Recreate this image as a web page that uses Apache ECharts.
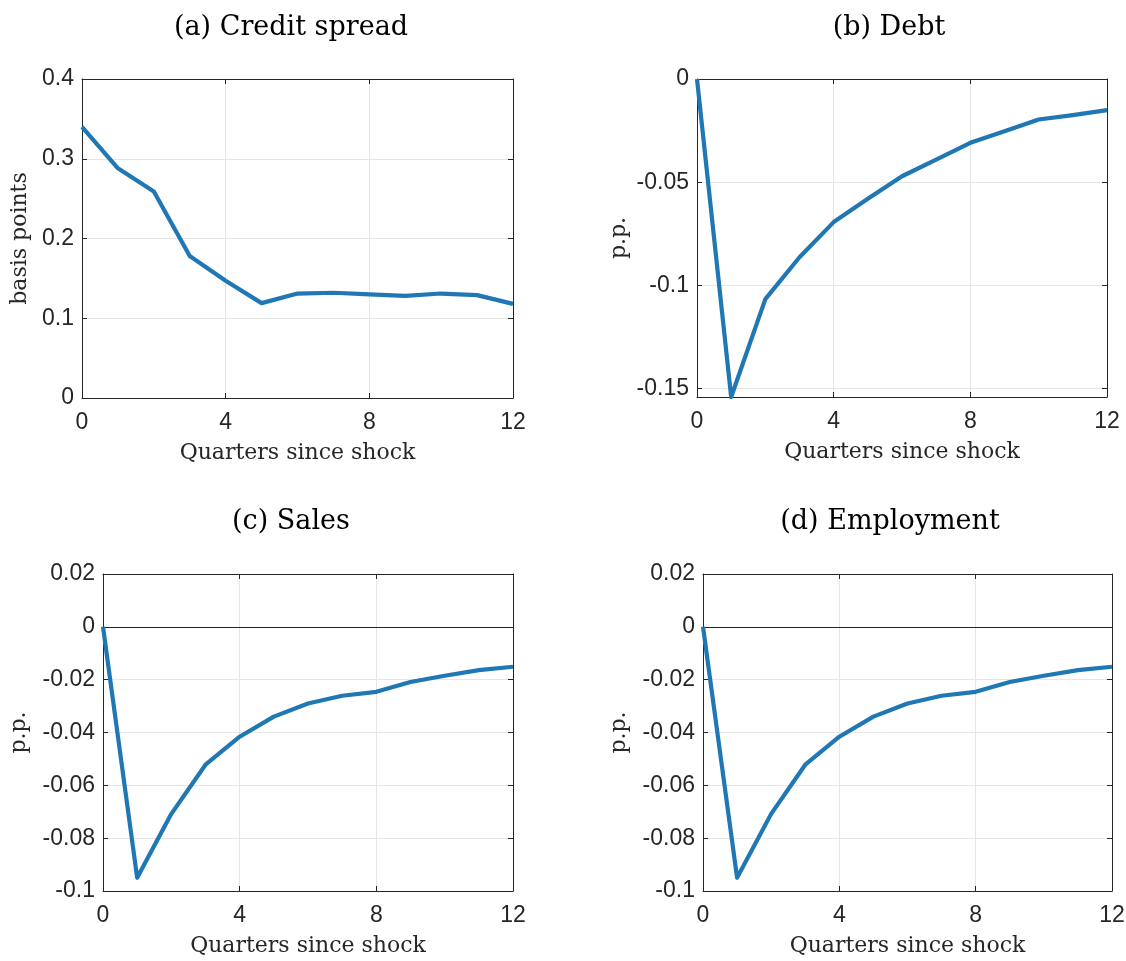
<!DOCTYPE html>
<html>
<head>
<meta charset="utf-8">
<script src="https://cdn.jsdelivr.net/npm/echarts@6/dist/echarts.min.js"></script>
<style>
html,body{margin:0;padding:0;background:#fff;}
#chart{width:1126px;height:961px;}
</style>
</head>
<body>
<div id="chart"></div>
<script>
const quarters = [0,1,2,3,4,5,6,7,8,9,10,11,12];
const creditSpread = [0.340,0.288,0.259,0.178,0.147,0.119,0.131,0.132,0.130,0.128,0.131,0.129,0.118];
const debt = [0,-0.154,-0.1066,-0.0863,-0.0693,-0.058,-0.0471,-0.039,-0.0309,-0.0253,-0.0196,-0.0175,-0.0151];
const sales = [0,-0.095,-0.0708,-0.0522,-0.0416,-0.034,-0.029,-0.0261,-0.0246,-0.0209,-0.0185,-0.0164,-0.0151];
const employment = [0,-0.095,-0.0708,-0.0522,-0.0416,-0.034,-0.029,-0.0261,-0.0246,-0.0209,-0.0185,-0.0164,-0.0151];
const xTicks = [0,4,8,12];
const debtTicks = [-0.15,-0.1,-0.05,0];
const titles = ['(a) Credit spread','(b) Debt','(c) Sales','(d) Employment'];
const yNames = ['basis points','p.p.','p.p.','p.p.'];
const xName = 'Quarters since shock';

const grids = [
  {left:82, top:79, width:431, height:319},
  {left:697, top:79, width:410, height:318},
  {left:103, top:574, width:410, height:317},
  {left:703, top:574, width:409, height:317}
];
const titleCenters = [286, 884, 286, 885];
const yCfg = [
  {min:0, max:0.4, interval:0.1},
  {min:-0.154, max:0, custom:debtTicks},
  {min:-0.1, max:0.02, interval:0.02},
  {min:-0.1, max:0.02, interval:0.02}
];
const seriesData = [creditSpread, debt, sales, employment];

const AX = '#262626';
const GRID = '#e6e6e6';
const SANS = 'Liberation Sans';
const SERIF = 'DejaVu Serif';

const option = {
  backgroundColor:'#fff',
  animation:false,
  title: [],
  grid: [],
  xAxis: [],
  yAxis: [],
  series: []
};

grids.forEach((g,i)=>{
  option.grid.push(Object.assign({outerBoundsMode:'none', containLabel:false}, g));
  option.title.push({
    text: titles[i],
    left: titleCenters[i],
    top: i<2 ? 9 : 503,
    textAlign:'center',
    textStyle:{fontFamily:SERIF, fontSize:27, fontWeight:'normal', color:'#000'}
  });
  const xBase = {
    type:'value', gridIndex:i, min:0, max:12, interval:4,
    axisLine:{show:true, onZero:false, lineStyle:{color:AX, width:1}},
    axisTick:{show:true, inside:true, length:5, lineStyle:{color:AX}},
  };
  option.xAxis.push(Object.assign({}, xBase, {
    position:'bottom',
    name:xName, nameLocation:'middle', nameGap:44,
    nameTextStyle:{fontFamily:SERIF, fontSize:22, color:'#262626'},
    axisLabel:{fontFamily:SANS, fontSize:23, color:AX, margin:13},
    splitLine:{show:true, lineStyle:{color:GRID, width:1}}
  }));
  option.xAxis.push(Object.assign({}, xBase, {
    position:'top', axisLabel:{show:false}, splitLine:{show:false}
  }));
  const yc = yCfg[i];
  const yBase = {
    type:'value', gridIndex:i, min:yc.min, max:yc.max,
    axisLine:{show:true, onZero:false, lineStyle:{color:AX, width:1}},
    axisTick:{show:true, inside:true, length:5, lineStyle:{color:AX}}
  };
  if (yc.interval) yBase.interval = yc.interval;
  if (yc.custom) yBase.axisTick.customValues = yc.custom;
  const yLeft = Object.assign({}, yBase, {
    position:'left',
    name:yNames[i], nameLocation:'middle', nameGap: i===0 ? 51 : (i===1 ? 67 : 73),
    nameRotate:90,
    nameTextStyle:{fontFamily:SERIF, fontSize:22, color:'#262626'},
    axisLabel:{fontFamily:SANS, fontSize:23, color:AX, margin:8},
    splitLine:{show:true, lineStyle:{color:GRID, width:1}}
  });
  if (yc.custom) yLeft.axisLabel.customValues = yc.custom;
  option.yAxis.push(yLeft);
  option.yAxis.push(Object.assign({}, yBase, {
    position:'right', axisLabel:{show:false}, splitLine:{show:false}
  }));
  const s = {
    type:'line', xAxisIndex:2*i, yAxisIndex:2*i,
    data: quarters.map((q,k)=>[q, seriesData[i][k]]),
    showSymbol:false, symbol:'none',
    lineStyle:{color:'#1f77b4', width:4.2, join:'round'},
    clip:true, z:5
  };
  if (i>=2) {
    s.markLine = {
      silent:true, symbol:['none','none'], label:{show:false},
      lineStyle:{color:AX, width:1, type:'solid'},
      data:[{yAxis:0}], z:3
    };
  }
  option.series.push(s);
});

const chart = echarts.init(document.getElementById('chart'), null, {renderer:'canvas'});
chart.setOption(option);
</script>
</body>
</html>
